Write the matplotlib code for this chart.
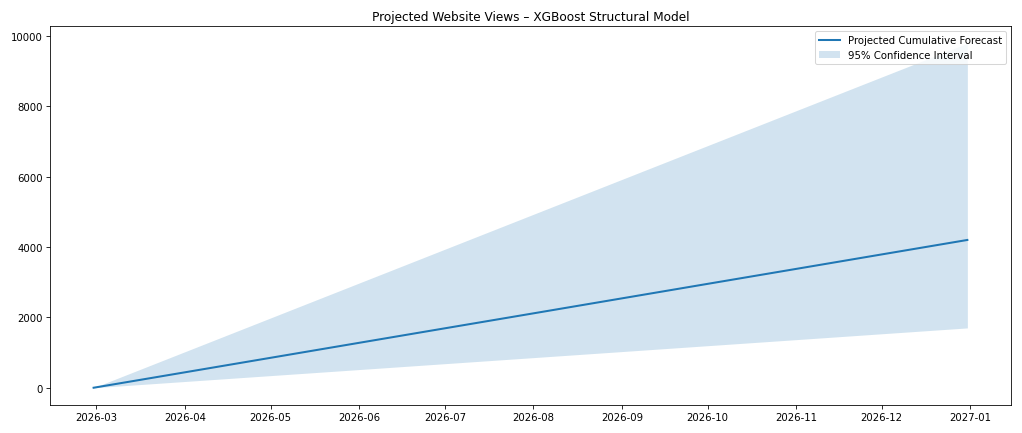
import pandas as pd
import matplotlib
matplotlib.use("Agg")
from matplotlib import pyplot as plt

dates = pd.to_datetime(['2026-02-28', '2026-03-31', '2026-04-30', '2026-05-31', '2026-06-30',
                        '2026-07-31', '2026-08-31', '2026-09-30', '2026-10-31', '2026-11-30',
                        '2026-12-31'])
forecast = [0, 425, 837, 1263, 1675, 2100, 2526, 2938, 3363, 3775, 4200]
lower = [0, 172, 339, 511, 678, 850, 1022, 1189, 1361, 1528, 1700]
upper = [0, 992, 1952, 2944, 3904, 4896, 5888, 6848, 7840, 8800, 9790]

fig, ax = plt.subplots(figsize=(14, 5.945), dpi=73)
ax.plot(dates, forecast, color='tab:blue', linewidth=2, label='Projected Cumulative Forecast')
ax.fill_between(dates, lower, upper, color='tab:blue', alpha=0.2, linewidth=0,
                label='95% Confidence Interval')
ax.set_title('Projected Website Views \u2013 XGBoost Structural Model')
ax.legend(loc='upper right')
plt.tight_layout()
plt.savefig('out.png', dpi=73)
